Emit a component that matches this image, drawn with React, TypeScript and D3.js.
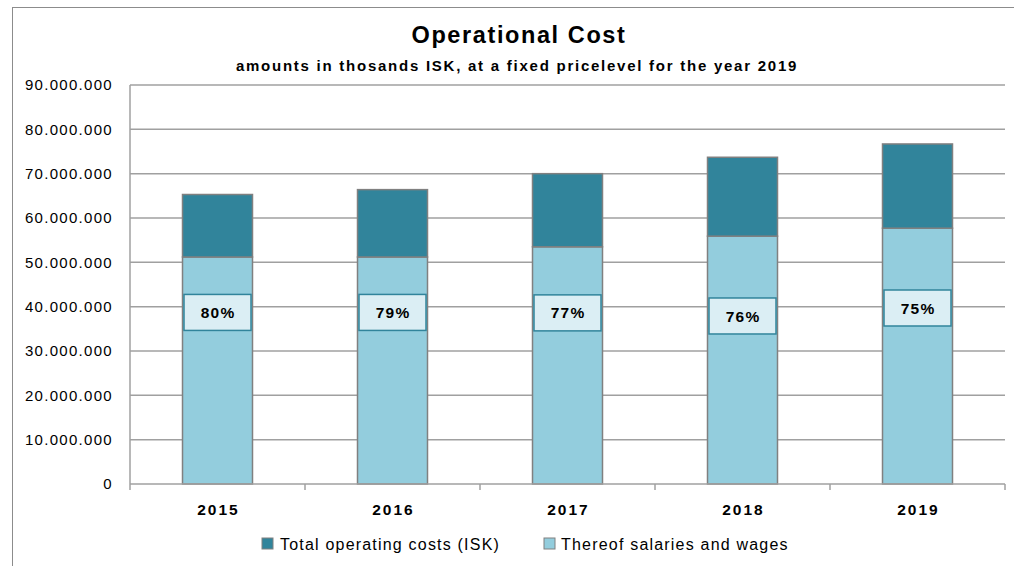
import React from 'react'
import { scaleBand, scaleLinear, stack, format, range } from 'd3'

const years = ['2015', '2016', '2017', '2018', '2019']
const totalCosts = [65300000, 66400000, 70000000, 73700000, 76700000]
const salaries = [51200000, 51200000, 53500000, 55900000, 57700000]
const shareLabels = ['80%', '79%', '77%', '76%', '75%']
const labelAt = [38700000, 38700000, 38600000, 37900000, 39700000]
const yTicks = [0, 10000000, 20000000, 30000000, 40000000, 50000000, 60000000, 70000000, 80000000, 90000000]
const seriesNames = ['Total operating costs (ISK)', 'Thereof salaries and wages']

const W = 1014
const H = 566
const margin = { left: 130, right: 9, top: 85, bottom: 82 }
const font = '"Liberation Sans", Arial, sans-serif'
const dark = '#31849B'
const light = '#93CDDD'

export default function App() {
  const innerW = W - margin.left - margin.right
  const innerH = H - margin.top - margin.bottom

  const x = scaleBand<string>()
    .domain(years)
    .range([margin.left, margin.left + innerW])
    .paddingInner(0.6)
    .paddingOuter(0.3)

  const y = scaleLinear()
    .domain([0, 90000000])
    .range([margin.top + innerH, margin.top])

  const rows = years.map((yr, i) => ({
    year: yr,
    salary: salaries[i],
    rest: totalCosts[i] - salaries[i],
  }))
  const layers = stack<any>().keys(['salary', 'rest'])(rows)

  const fmt = (v: number) => format(',')(v).replace(/,/g, '.')
  const step = x.step()
  const bw = x.bandwidth()

  return (
    <svg width={W} height={H} style={{ position: 'absolute', left: 0, top: 0, fontFamily: font }}>
      <rect x={12.5} y={7.5} width={W + 10} height={H + 10} fill="#fff" stroke="#8c8c8c" strokeWidth={1} />

      <text x={519} y={43} textAnchor="middle" fontSize={23.5} fontWeight="bold" letterSpacing={1.6}>
        Operational Cost
      </text>
      <text x={517} y={71} textAnchor="middle" fontSize={15} fontWeight="bold" letterSpacing={1.75}>
        amounts in thosands ISK, at a fixed pricelevel for the year 2019
      </text>

      {/* grid + y labels */}
      {yTicks.map((t) => (
        <g key={t}>
          {t > 0 && (
            <line x1={margin.left} x2={margin.left + innerW} y1={y(t)} y2={y(t)} stroke="#a0a0a0" strokeWidth={1.5} />
          )}
          <text x={113} y={y(t)} dy="0.35em" textAnchor="end" fontSize={15} letterSpacing={1.3}>{fmt(t)}</text>
        </g>
      ))}

      {/* bars */}
      {layers.map((layer, li) => (
        <g key={layer.key}>
          {layer.map((d, i) => (
            <rect
              key={i}
              x={x(years[i])}
              y={y(d[1])}
              width={bw}
              height={y(d[0]) - y(d[1])}
              fill={li === 0 ? light : dark}
              stroke="#808080"
              strokeWidth={1.5}
            />
          ))}
        </g>
      ))}

      {/* share labels */}
      {shareLabels.map((lab, i) => (
        <g key={lab}>
          <rect
            x={(x(years[i]) as number) + 1.5}
            y={y(labelAt[i]) - 18}
            width={bw - 3}
            height={36}
            fill="#DBEEF4"
            stroke={dark}
            strokeWidth={1.5}
          />
          <text
            x={(x(years[i]) as number) + bw / 2 + 0.6}
            y={y(labelAt[i])}
            dy="0.36em"
            textAnchor="middle"
            fontSize={15.5}
            fontWeight="bold"
            letterSpacing={1.2}
          >
            {lab}
          </text>
        </g>
      ))}

      {/* axes */}
      <line x1={margin.left} x2={margin.left} y1={margin.top} y2={y(0)} stroke="#a0a0a0" strokeWidth={1.5} />
      <line x1={margin.left} x2={margin.left + innerW} y1={y(0)} y2={y(0)} stroke="#a0a0a0" strokeWidth={1.5} />
      {range(years.length + 1).map((i) => (
        <line
          key={i}
          x1={margin.left + i * step}
          x2={margin.left + i * step}
          y1={y(0)}
          y2={y(0) + 6}
          stroke="#a0a0a0"
          strokeWidth={1.5}
        />
      ))}
      {years.map((yr) => (
        <text
          key={yr}
          x={(x(yr) as number) + bw / 2 + 1}
          y={510}
          dy="0.35em"
          textAnchor="middle"
          fontSize={15.5}
          fontWeight="bold"
          letterSpacing={2}
        >
          {yr}
        </text>
      ))}

      {/* legend */}
      <rect x={262} y={538} width={11} height={11} fill={dark} stroke="#808080" strokeWidth={1} />
      <text x={280} y={544} dy="0.35em" fontSize={16} letterSpacing={1.2}>{seriesNames[0]}</text>
      <rect x={544} y={538} width={11} height={11} fill={light} stroke="#808080" strokeWidth={1} />
      <text x={561} y={544} dy="0.35em" fontSize={16} letterSpacing={1.2}>{seriesNames[1]}</text>
    </svg>
  )
}
